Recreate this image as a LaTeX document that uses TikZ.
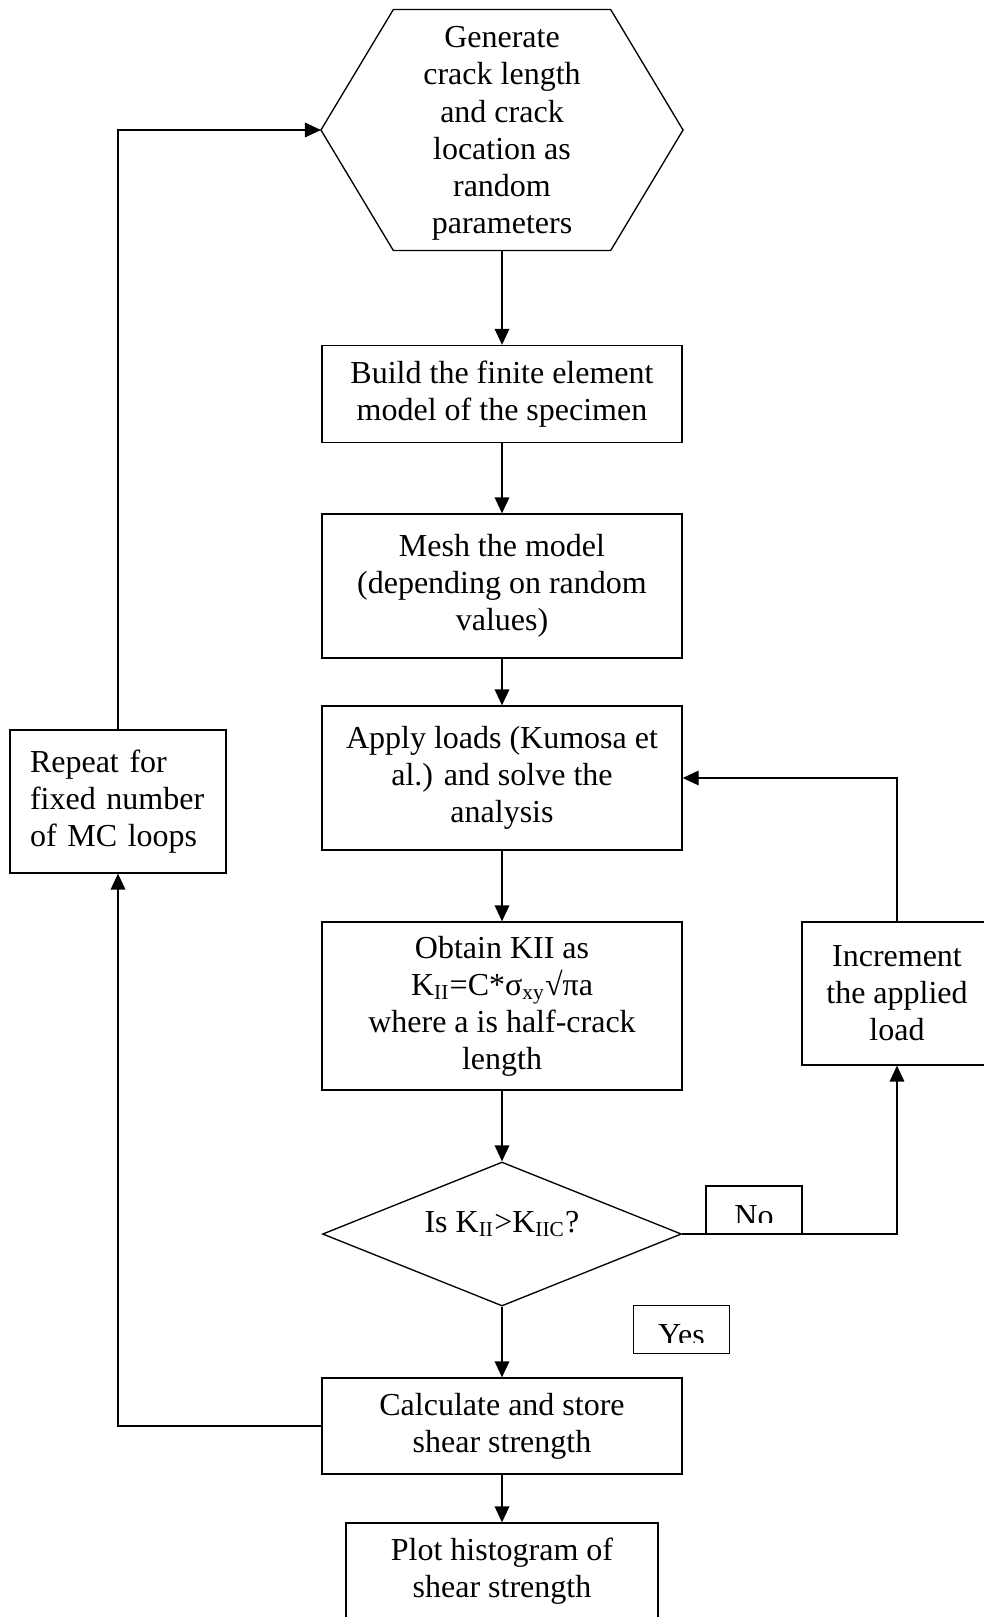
\documentclass[tikz,border=0pt]{standalone}
\usepackage{fontspec}
\setmainfont{Liberation Serif}
\usetikzlibrary{arrows.meta,calc,shapes.geometric}
\tikzset{
  txt/.style={font=\fontsize{12pt}{13.9pt}\selectfont},
  proc/.style={txt,draw,fill=white,line width=0.5pt,align=center,inner sep=2pt,minimum width=135pt},
  hexa/.style={txt,align=center,inner sep=0pt,text depth=-1.2pt,minimum width=135.4pt,minimum height=90pt},
  decide/.style={txt,diamond,draw,fill=white,line width=0.5pt,inner sep=0pt,aspect=2.5,
    minimum width=134.6pt,minimum height=54pt},
  tagbox/.style={draw,fill=white,line width=0.5pt,minimum width=36pt,minimum height=18pt,
    path picture={
      \clip (path picture bounding box.north west) rectangle ([yshift=4.3pt]path picture bounding box.south east);
      \node[txt,anchor=base,inner sep=0pt] at ([yshift=3pt]path picture bounding box.south) {#1};}},
  arr/.style={-{Triangle[length=6pt,width=5.5pt]},line width=0.5pt},
}
\begin{document}
\begin{tikzpicture}[x=0.375pt,y=-0.375pt]
  \useasboundingbox (0,0) rectangle (984,1617);

  \node[hexa] (gen) at (502,130) {Generate\\crack length\\and crack\\location as\\random\\parameters};
  \draw[line width=0.5pt] (gen.west) -- ($(gen.north west)!0.2!(gen.north east)$)
    -- ($(gen.north west)!0.8!(gen.north east)$) -- (gen.east)
    -- ($(gen.south west)!0.8!(gen.south east)$) -- ($(gen.south west)!0.2!(gen.south east)$) -- cycle;

  \node[proc,minimum height=36.4pt] (build) at (502,394) {Build the finite element\\model of the specimen};
  \node[proc,minimum height=54pt] (mesh) at (502,586) {Mesh the model\\(depending on random\\values)};
  \node[proc,minimum height=54pt] (load) at (502,778) {Apply loads (Kumosa et\\al.) and solve the\\analysis};
  \node[proc,minimum height=63pt] (kii) at (502,1006)
    {Obtain KII as\\K\textsubscript{II}=C*σ\textsubscript{xy}√πa\\where a is half-crack\\length};
  \node[decide] (test) at (502,1234) {\raisebox{0.75pt}[0pt][0pt]{Is K\textsubscript{II}>K\textsubscript{IIC}?}};
  \node[proc,minimum height=36pt] (calc) at (502,1426) {Calculate and store\\shear strength};
  \node[proc,minimum width=117pt,minimum height=36pt] (plot) at (502,1571) {Plot histogram of\\shear strength};
  \node[proc,align=left,text width=66pt,inner xsep=7.5pt,minimum width=81pt,minimum height=53.6pt] (rep)
    at (118,801.5) {Repeat for\\fixed number\\of MC loops};
  \node[proc,minimum width=71.25pt,minimum height=53.6pt] (inc) at (897,993.5) {Increment\\the applied\\load};

  \node[tagbox=No] (no) at (754,1210) {};
  \node[tagbox=Yes] (yes) at (681.5,1329.5) {};

  \draw[arr] (gen.south) -- (build.north);
  \foreach \a/\b in {build/mesh,mesh/load,load/kii,kii/test,test/calc,calc/plot}
    \draw[arr] (\a) -- (\b);
  \draw[arr] (test.east) -| (inc.south);
  \draw[arr] (inc.north) |- (load.east);
  \draw[arr] (calc.west) -| (rep.south);
  \draw[arr] (rep.north) |- (gen.west);
\end{tikzpicture}
\end{document}
